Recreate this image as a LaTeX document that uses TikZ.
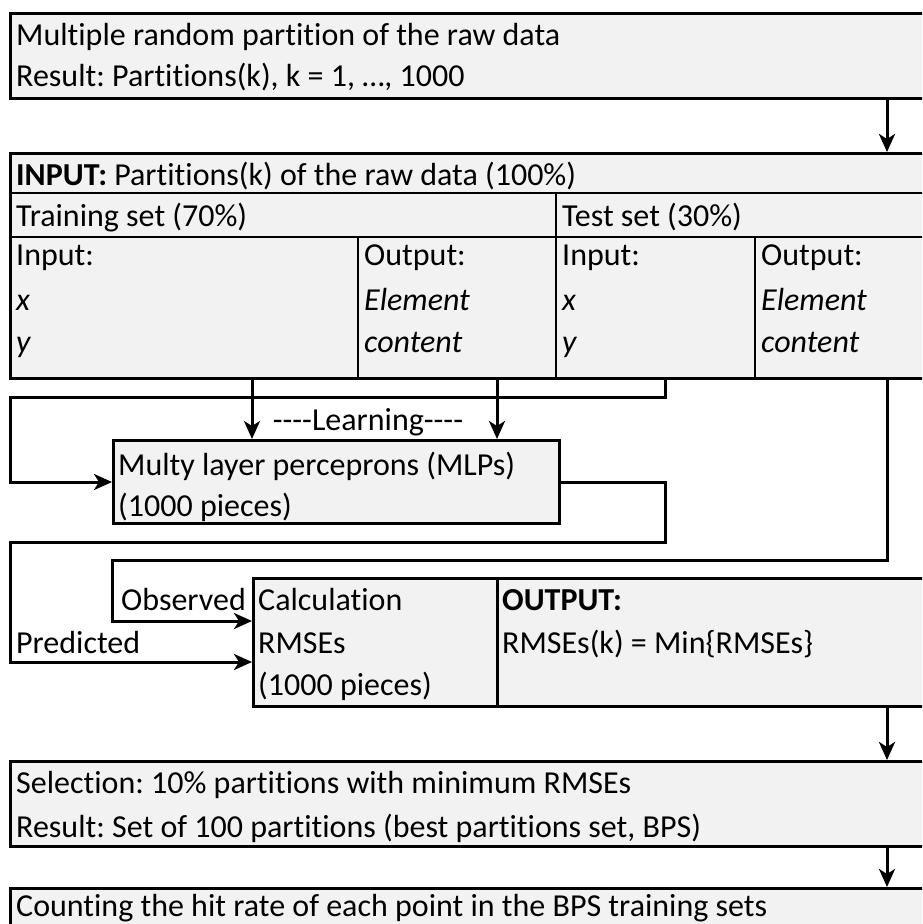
\documentclass[tikz,border=0pt]{standalone}
\usepackage{fontspec}
\setmainfont{Carlito}[Ligatures={NoCommon}]
\usetikzlibrary{arrows.meta}
\definecolor{boxfill}{HTML}{F2F2F2}
\newcommand\dgfont{\fontsize{32}{38}\selectfont\frenchspacing}
\tikzset{
  box/.style={draw=black, line width=3pt, fill=boxfill, anchor=north west, inner sep=0pt},
  grid/.style={draw=black, line width=2pt},
  conn/.style={draw=black, line width=3pt, line join=miter},
  arr/.style={conn, -{Stealth[length=18pt,width=16pt,inset=5pt]}},
  txt/.style={anchor=base west, inner sep=0pt, font=\dgfont},
}
\begin{document}
\begin{tikzpicture}[x=1pt,y=-1pt]
\useasboundingbox (0,0) rectangle (922,924);
\clip (0,0) rectangle (922,924);
\fill[white] (0,0) rectangle (922,924);

% boxes
\node[box, minimum width=952pt, minimum height=85pt] (b1) at (9,12) {};
\node[box, minimum width=952pt, minimum height=225pt] (tbl) at (9,152) {};
\node[box, minimum width=446pt, minimum height=83pt] (mlp) at (112,439) {};
\node[box, minimum width=244pt, minimum height=128pt] (calc) at (252,577) {};
\node[box, minimum width=464pt, minimum height=128pt] (out) at (496,577) {};
\node[box, minimum width=952pt, minimum height=85pt] (b3) at (9,760) {};
\node[box, minimum width=952pt, minimum height=80pt] (b4) at (9,887) {};

% table grid
\coordinate (r1) at (0,193);
\coordinate (r2) at (0,237);
\coordinate (c1) at (556,0);
\coordinate (c2) at (358,0);
\coordinate (c3) at (755,0);
\draw[grid] (tbl.west |- r1) -- (tbl.east |- r1);
\draw[grid] (tbl.west |- r2) -- (tbl.east |- r2);
\draw[grid] (c1 |- r1) -- (c1 |- tbl.south);
\draw[grid] (c2 |- r2) -- (c2 |- tbl.south);
\draw[grid] (c3 |- r2) -- (c3 |- tbl.south);

% helper coordinates
\coordinate (xa) at (887,0);
\coordinate (xl1) at (252,0);
\coordinate (xl2) at (497,0);
\coordinate (xt) at (665,0);
\coordinate (xL) at (10,0);
\coordinate (xO) at (112,0);
\coordinate (yL) at (0,397);
\coordinate (yP) at (0,542);
\coordinate (yP2) at (0,662);
\coordinate (yO) at (0,560);
\coordinate (yO2) at (0,621);

% connectors
\draw[arr] (b1.south -| xa) -- (tbl.north -| xa);
\draw[arr] (tbl.south -| xl1) -- (mlp.north -| xl1);
\draw[arr] (tbl.south -| xl2) -- (mlp.north -| xl2);
\draw[arr] (tbl.south -| xt) -- (xt |- yL) -- (xL |- yL) -- (xL |- mlp.west) -- (mlp.west);
\draw[arr] (mlp.east) -- (mlp.east -| xt) -- (xt |- yP) -- (xL |- yP) -- (xL |- yP2) -- (calc.west |- yP2);
\draw[arr] (tbl.south -| xa) -- (xa |- yO) -- (xO |- yO) -- (xO |- yO2) -- (calc.west |- yO2);
\draw[arr] (out.south -| xa) -- (b3.north -| xa);
\draw[arr] (b3.south -| xa) -- (b4.north -| xa);

% texts
\node[txt] (t1a) at (16,45) {Multiple random partition of the raw data};
\node[txt] (t1b) at (16,86) {Result: Partitions(k), k = 1, …, 1000};
\node[txt] (t2) at (16,185) {\textbf{INPUT:} Partitions(k) of the raw data (100\%)};
\node[txt] (ttr) at (16,226) {Training set (70\%)};
\node[txt] (tte) at (562,226) {Test set (30\%)};
\node[txt] (ti1) at (16,265) {Input:};
\node[txt] (ti2) at (16,310) {\textit{x}};
\node[txt] (ti3) at (16,352) {\textit{y}};
\node[txt] (to1) at (364,265) {Output:};
\node[txt] (to2) at (364,310) {\textit{Element}};
\node[txt] (to3) at (364,352) {\textit{content}};
\node[txt] (si1) at (562,265) {Input:};
\node[txt] (si2) at (562,310) {\textit{x}};
\node[txt] (si3) at (562,352) {\textit{y}};
\node[txt] (so1) at (761,265) {Output:};
\node[txt] (so2) at (761,310) {\textit{Element}};
\node[txt] (so3) at (761,352) {\textit{content}};
\node[txt, anchor=base] (lrn) at (368,430) {-{}-{}-{}-Learning-{}-{}-{}-};
\node[txt] (m1) at (118,475) {Multy layer perceprons (MLPs)};
\node[txt] (m2) at (118,516) {(1000 pieces)};
\node[txt] (ca1) at (258,610) {Calculation};
\node[txt] (ca2) at (258,653) {RMSEs};
\node[txt] (ca3) at (258,695) {(1000 pieces)};
\node[txt] (ou1) at (502,610) {\textbf{OUTPUT:}};
\node[txt] (ou2) at (502,653) {RMSEs(k) = Min\{RMSEs\}};
\node[txt, anchor=base east] (obs) at (246,610) {Observed};
\node[txt] (pred) at (16,653) {Predicted};
\node[txt] (s1) at (16,793) {Selection: 10\% partitions with minimum RMSEs};
\node[txt] (s2) at (16,837) {Result: Set of 100 partitions (best partitions set, BPS)};
\node[txt] (cnt) at (16,916) {Counting the hit rate of each point in the BPS training sets};
\end{tikzpicture}
\end{document}
